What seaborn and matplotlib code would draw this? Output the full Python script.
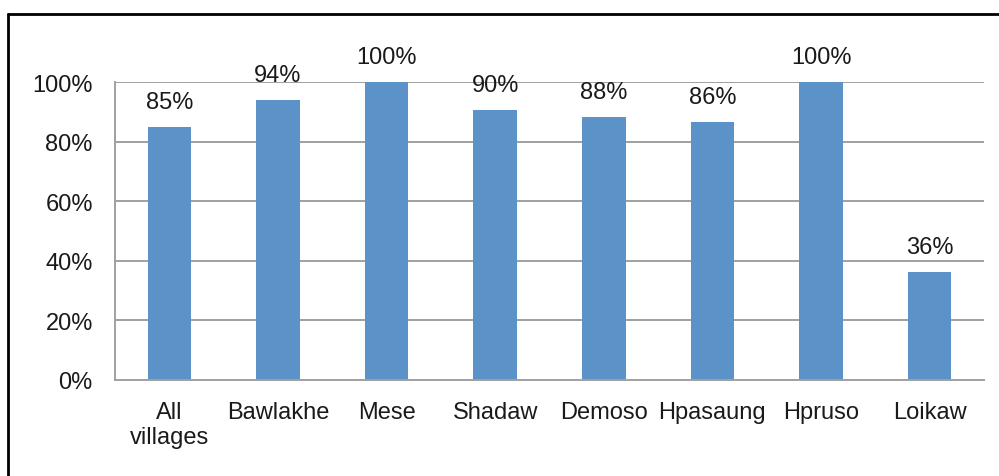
import matplotlib
matplotlib.use("Agg")
import matplotlib.pyplot as plt
import seaborn as sns
import pandas as pd
from matplotlib.lines import Line2D
from matplotlib.ticker import FixedLocator

categories = ["All\nvillages", "Bawlakhe", "Mese", "Shadaw", "Demoso", "Hpasaung", "Hpruso", "Loikaw"]
values = [85, 94, 100, 90.5, 88.3, 86.5, 100, 36.2]
labels = ["85%", "94%", "100%", "90%", "88%", "86%", "100%", "36%"]
yticks = [0, 20, 40, 60, 80, 100]
ytick_labels = ["0%", "20%", "40%", "60%", "80%", "100%"]

sns.set_style("white")
plt.rcParams["font.family"] = ["Liberation Sans", "DejaVu Sans"]

df = pd.DataFrame({"cat": categories, "val": values})

W, H = 999, 477
FS = 17
TXT = "#1a1a1a"
fig = plt.figure(figsize=(W / 100, H / 100), dpi=100)
ax = fig.add_axes([115 / W, (H - 381) / H, (984 - 115) / W, (381 - 83) / H])

sns.barplot(data=df, x="cat", y="val", color="#5B92C8", width=0.4, ax=ax,
            saturation=1, edgecolor="none")

ax.set_ylim(0, 100)
ax.set_xlim(-0.5, len(categories) - 0.5)
ax.set_xlabel("")
ax.set_ylabel("")

grid_c = "#A0A0A0"
ax.set_yticks(yticks)
ax.set_yticklabels(ytick_labels, fontsize=FS, color=TXT)
for y in yticks[1:]:
    ax.axhline(y, color=grid_c, lw=1.4, zorder=0)

ax.set_xticks(range(len(categories)))
ax.set_xticklabels(categories, fontsize=FS, color=TXT, linespacing=1.2)
ax.tick_params(axis="x", which="major", length=0, pad=15)
ax.xaxis.set_minor_locator(FixedLocator([i - 0.5 for i in range(len(categories) + 1)]))
ax.tick_params(axis="x", which="minor", length=5, width=1.4, color=grid_c, direction="out")
ax.tick_params(axis="y", which="major", length=5, width=1.4, color=grid_c, direction="out", pad=11)

for s in ["top", "right"]:
    ax.spines[s].set_visible(False)
for s in ["left", "bottom"]:
    ax.spines[s].set_color(grid_c)
    ax.spines[s].set_linewidth(1.4)

for i, (v, lab) in enumerate(zip(values, labels)):
    ax.annotate(lab, (i, v), xytext=(0, 10), textcoords="offset points",
                ha="center", va="bottom", fontsize=FS, color=TXT,
                annotation_clip=False)

# outer frame (top and left visible)
fig.add_artist(Line2D([8 / W, 1.0], [(H - 15) / H, (H - 15) / H], color="black", lw=2,
                      transform=fig.transFigure))
fig.add_artist(Line2D([8 / W, 8 / W], [0, (H - 15) / H], color="black", lw=2,
                      transform=fig.transFigure))

fig.savefig("out.png", dpi=100)
